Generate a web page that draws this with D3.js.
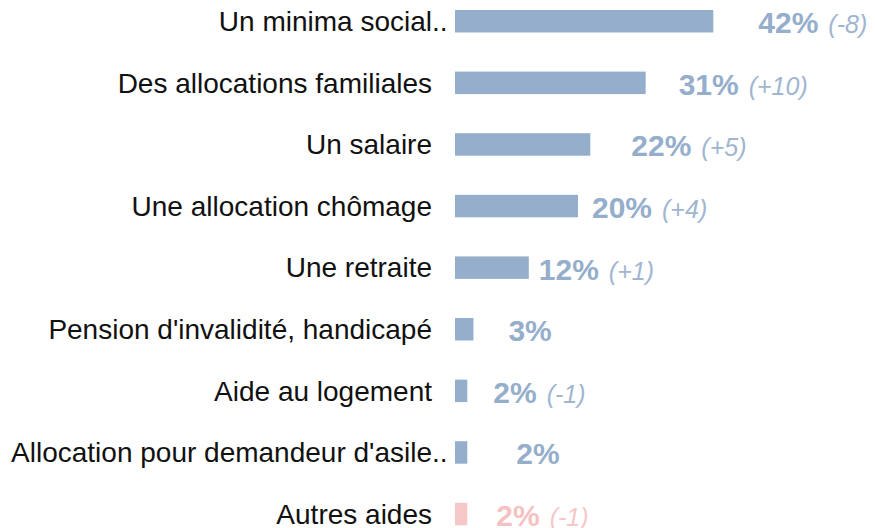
<!DOCTYPE html>
<html>
<head>
<meta charset="utf-8">
<script src="https://cdn.jsdelivr.net/npm/d3@7"></script>
<style>
  body { margin: 0; background: #fff; }
  svg { display: block; font-family: "Liberation Sans", Arial, Helvetica, sans-serif; }
</style>
</head>
<body>
<svg id="chart" width="875" height="528"></svg>
<script>
// data, top to bottom
const categories = [
  "Un minima social",
  "Des allocations familiales",
  "Un salaire",
  "Une allocation chômage",
  "Une retraite",
  "Pension d'invalidité, handicapé",
  "Aide au logement",
  "Allocation pour demandeur d'asile",
  "Autres aides"
];
const truncated = [true, false, false, false, false, false, false, true, false];
const values = [42, 31, 22, 20, 12, 3, 2, 2, 2];
const deltas = ["(-8)", "(+10)", "(+5)", "(+4)", "(+1)", "", "(-1)", "", "(-1)"];
const isOther = [false, false, false, false, false, false, false, false, true];

// the value labels are not all at the same distance from the bar end
const labelGap = [45, 33, 41, 14, 10, 35, 26, 49, 29];

const colors = {
  bar: "#95aecb", value: "#95aecb", delta: "#a0b6d0",
  barOther: "#f6c7c7", valueOther: "#f5c2c2", deltaOther: "#f5c8c8",
  label: "#111"
};

const svg = d3.select("#chart");
const rows = categories.map((c, i) => ({
  cat: c, trunc: truncated[i], v: values[i], d: deltas[i], other: isOther[i], gap: labelGap[i]
}));

const x = d3.scaleLinear().domain([0, 42]).range([455, 713.3]);
const y = d3.scaleBand()
  .domain(categories)
  .range([10, 525.3])
  .paddingInner(0.635)
  .paddingOuter(0);

const g = svg.selectAll("g.row").data(rows).join("g").attr("class", "row");

g.append("rect")
  .attr("x", x(0))
  .attr("y", d => y(d.cat))
  .attr("width", d => x(d.v) - x(0))
  .attr("height", y.bandwidth())
  .attr("fill", d => d.other ? colors.barOther : colors.bar);

// category labels, right aligned; truncation dots run past the edge
g.append("text")
  .attr("x", 432)
  .attr("y", d => y(d.cat) + y.bandwidth() / 2)
  .attr("dy", "0.35em")
  .attr("text-anchor", "end")
  .attr("font-size", 28)
  .attr("fill", colors.label)
  .text(d => d.cat);

g.filter(d => d.trunc).append("text")
  .attr("x", 432)
  .attr("y", d => y(d.cat) + y.bandwidth() / 2)
  .attr("dy", "0.35em")
  .attr("font-size", 28)
  .attr("fill", colors.label)
  .text("..");

const val = g.append("text")
  .attr("x", d => x(d.v) + d.gap)
  .attr("y", d => y(d.cat) + y.bandwidth() / 2 + 12);

val.append("tspan")
  .attr("font-size", 30)
  .attr("font-weight", "bold")
  .attr("fill", d => d.other ? colors.valueOther : colors.value)
  .text(d => d.v + "%");

val.filter(d => d.d).append("tspan")
  .attr("dx", 10)
  .attr("font-size", 25)
  .attr("font-style", "italic")
  .attr("fill", d => d.other ? colors.deltaOther : colors.delta)
  .text(d => d.d);
</script>
</body>
</html>
